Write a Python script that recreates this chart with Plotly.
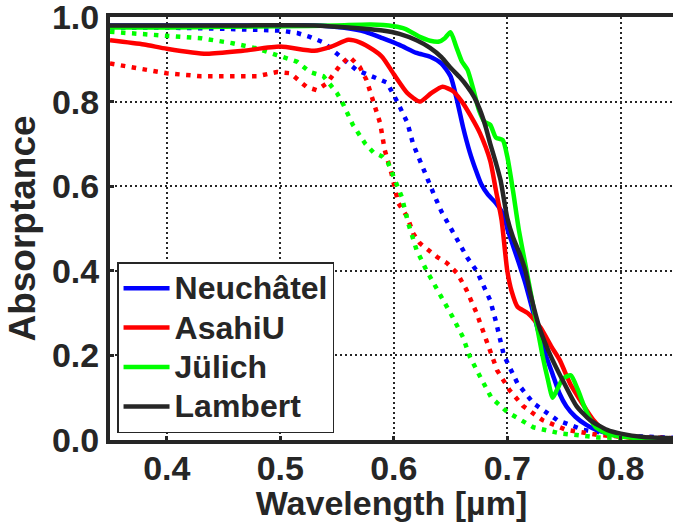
import plotly.graph_objects as go

# Wavelength [um] / absorptance samples for each cell (solid lines)
neu_x = [0.35, 0.40, 0.45, 0.50, 0.53, 0.555, 0.575, 0.59, 0.605, 0.62, 0.632, 0.642, 0.65, 0.656,
         0.661, 0.667, 0.672, 0.677, 0.683, 0.69, 0.697, 0.70, 0.705, 0.71, 0.716, 0.72, 0.727, 0.734,
         0.74, 0.746, 0.752, 0.76, 0.77, 0.78, 0.80, 0.82, 0.85]
neu_y = [0.98, 0.98, 0.98, 0.98, 0.98, 0.975, 0.965, 0.95, 0.934, 0.915, 0.906, 0.89, 0.86, 0.80,
         0.74, 0.68, 0.64, 0.605, 0.58, 0.56, 0.53, 0.50, 0.46, 0.42, 0.37, 0.33, 0.26, 0.20,
         0.155, 0.11, 0.08, 0.055, 0.035, 0.022, 0.01, 0.005, 0.003]

asa_x = [0.35, 0.38, 0.40, 0.435, 0.467, 0.50, 0.53, 0.545, 0.56, 0.57, 0.582, 0.59, 0.60, 0.612,
         0.623, 0.633, 0.643, 0.652, 0.66, 0.668, 0.676, 0.685, 0.69, 0.695, 0.70, 0.704, 0.709,
         0.718, 0.729, 0.739, 0.746, 0.756, 0.764, 0.77, 0.776, 0.782, 0.79, 0.80, 0.82, 0.85]
asa_y = [0.945, 0.935, 0.925, 0.913, 0.92, 0.93, 0.92, 0.93, 0.946, 0.94, 0.922, 0.905, 0.865, 0.82,
         0.80, 0.82, 0.835, 0.825, 0.80, 0.765, 0.725, 0.66, 0.59, 0.52, 0.40, 0.35, 0.315,
         0.30, 0.267, 0.22, 0.19, 0.13, 0.095, 0.07, 0.047, 0.03, 0.015, 0.008, 0.004, 0.003]

jul_x = [0.35, 0.40, 0.45, 0.50, 0.55, 0.58, 0.60, 0.61, 0.623, 0.632, 0.64, 0.645, 0.65, 0.655,
         0.66, 0.665, 0.67, 0.675, 0.68, 0.685, 0.69, 0.696, 0.70, 0.705, 0.71, 0.717, 0.724, 0.731,
         0.736, 0.74, 0.744, 0.749, 0.756, 0.762, 0.767, 0.772, 0.778, 0.79, 0.80, 0.82, 0.85]
jul_y = [0.975, 0.975, 0.977, 0.978, 0.98, 0.982, 0.978, 0.972, 0.953, 0.944, 0.942, 0.95, 0.964, 0.93,
         0.895, 0.875, 0.83, 0.78, 0.752, 0.745, 0.715, 0.709, 0.67, 0.59, 0.50, 0.40, 0.30, 0.20,
         0.14, 0.10, 0.12, 0.145, 0.153, 0.12, 0.085, 0.055, 0.03, 0.013, 0.008, 0.004, 0.003]

lam_x = [0.35, 0.45, 0.53, 0.56, 0.59, 0.605, 0.62, 0.632, 0.642, 0.65, 0.658, 0.665, 0.671, 0.676,
         0.681, 0.685, 0.69, 0.694, 0.70, 0.705, 0.711, 0.716, 0.72, 0.729, 0.738, 0.749, 0.761,
         0.773, 0.788, 0.80, 0.82, 0.85]
lam_y = [0.98, 0.98, 0.98, 0.975, 0.968, 0.96, 0.945, 0.927, 0.905, 0.88, 0.858, 0.835, 0.81, 0.78,
         0.74, 0.70, 0.655, 0.615, 0.525, 0.48, 0.44, 0.40, 0.35, 0.26, 0.20, 0.14, 0.08,
         0.047, 0.024, 0.015, 0.007, 0.004]

# Dotted companions (same colours, no legend entry)
neu_d_x = [0.35, 0.40, 0.45, 0.50, 0.515, 0.526, 0.538, 0.544, 0.553, 0.567, 0.585, 0.594, 0.603,
           0.612, 0.617, 0.626, 0.635, 0.642, 0.65, 0.658, 0.665, 0.673, 0.685, 0.69, 0.697, 0.709,
           0.723, 0.744, 0.767, 0.80, 0.85]
neu_d_y = [0.975, 0.975, 0.972, 0.968, 0.962, 0.953, 0.94, 0.926, 0.906, 0.875, 0.855, 0.845, 0.80,
           0.75, 0.70, 0.638, 0.583, 0.54, 0.50, 0.465, 0.43, 0.40, 0.33, 0.28, 0.20, 0.134,
           0.087, 0.047, 0.024, 0.01, 0.005]

asa_d_x = [0.35, 0.40, 0.43, 0.48, 0.497, 0.509, 0.523, 0.532, 0.541, 0.553, 0.561, 0.57, 0.576,
           0.582, 0.588, 0.592, 0.598, 0.604, 0.612, 0.617, 0.623, 0.638, 0.647, 0.656, 0.664, 0.673,
           0.682, 0.691, 0.702, 0.714, 0.731, 0.752, 0.78, 0.80, 0.85]
asa_d_y = [0.89, 0.867, 0.86, 0.86, 0.87, 0.867, 0.835, 0.827, 0.843, 0.887, 0.906, 0.882, 0.851,
           0.80, 0.749, 0.686, 0.63, 0.56, 0.527, 0.489, 0.465, 0.433, 0.418, 0.394, 0.355, 0.30,
           0.229, 0.165, 0.118, 0.08, 0.047, 0.024, 0.012, 0.008, 0.004]

jul_d_x = [0.35, 0.40, 0.43, 0.458, 0.479, 0.497, 0.515, 0.526, 0.538, 0.55, 0.555, 0.564, 0.575,
           0.582, 0.59, 0.595, 0.599, 0.607, 0.613, 0.62, 0.629, 0.643, 0.652, 0.661, 0.667, 0.676,
           0.686, 0.70, 0.723, 0.746, 0.78, 0.85]
jul_d_y = [0.965, 0.957, 0.95, 0.938, 0.926, 0.91, 0.894, 0.87, 0.86, 0.82, 0.796, 0.745, 0.70,
           0.68, 0.67, 0.655, 0.63, 0.575, 0.51, 0.45, 0.40, 0.335, 0.29, 0.243, 0.197, 0.15,
           0.10, 0.066, 0.03, 0.016, 0.006, 0.003]

names = ["Neuchâtel", "AsahiU", "Jülich", "Lambert"]
colors = ["#0000ff", "#ff0000", "#00ff00", "#262626"]

x_ticks = [0.4, 0.5, 0.6, 0.7, 0.8]
y_ticks = [0.0, 0.2, 0.4, 0.6, 0.8, 1.0]

INK = "#262626"
FAMILY = "Liberation Sans, Arial, sans-serif"


def font(size):
    return dict(family=FAMILY, size=size, color=INK, weight="bold")


fig = go.Figure()

dotted = [(neu_d_x, neu_d_y, colors[0]), (asa_d_x, asa_d_y, colors[1]), (jul_d_x, jul_d_y, colors[2])]
for xs, ys, c in dotted:
    fig.add_trace(go.Scatter(x=xs, y=ys, mode="lines", showlegend=False,
                             line=dict(color=c, width=4.5, dash="4.5px,6.5px"), hoverinfo="skip"))

# legend rows are spaced from the legend font size; the label itself is drawn a bit larger
solid = [(neu_x, neu_y), (asa_x, asa_y), (jul_x, jul_y), (lam_x, lam_y)]
for (xs, ys), name, c in zip(solid, names, colors):
    fig.add_trace(go.Scatter(x=xs, y=ys, mode="lines",
                             name=f'<span style="font-size:32px">{name}</span>',
                             line=dict(color=c, width=4.5, shape="spline", smoothing=0.6)))

axis_common = dict(
    showline=True, linewidth=4, linecolor=INK, mirror=True,
    showgrid=True, gridcolor=INK, gridwidth=1.5, griddash="2px,3px",
    ticks="inside", ticklen=4, tickwidth=3, tickcolor=INK,
    tickfont=font(34), zeroline=False, tickformat=".1f",
    ticklabeloverflow="allow",
)

fig.update_xaxes(range=[0.35, 0.846], tickvals=x_ticks, ticklabelstandoff=-5,
                 title=dict(text="Wavelength [µm]", font=font(34), standoff=5), **axis_common)
fig.update_yaxes(range=[0.0, 1.0], tickvals=y_ticks,
                 title=dict(text="Absorptance", font=font(37), standoff=6), **axis_common)

fig.update_layout(
    width=673, height=522,
    margin=dict(l=110, r=0, t=17, b=82, autoexpand=False),
    paper_bgcolor="white", plot_bgcolor="white",
    font=font(28),
    showlegend=True,
    legend=dict(x=0.0125, y=0.0165, xanchor="left", yanchor="bottom",
                bgcolor="white", bordercolor=INK, borderwidth=1.5,
                font=font(28), tracegroupgap=0, itemwidth=46),
)

fig.write_html("out.html")
